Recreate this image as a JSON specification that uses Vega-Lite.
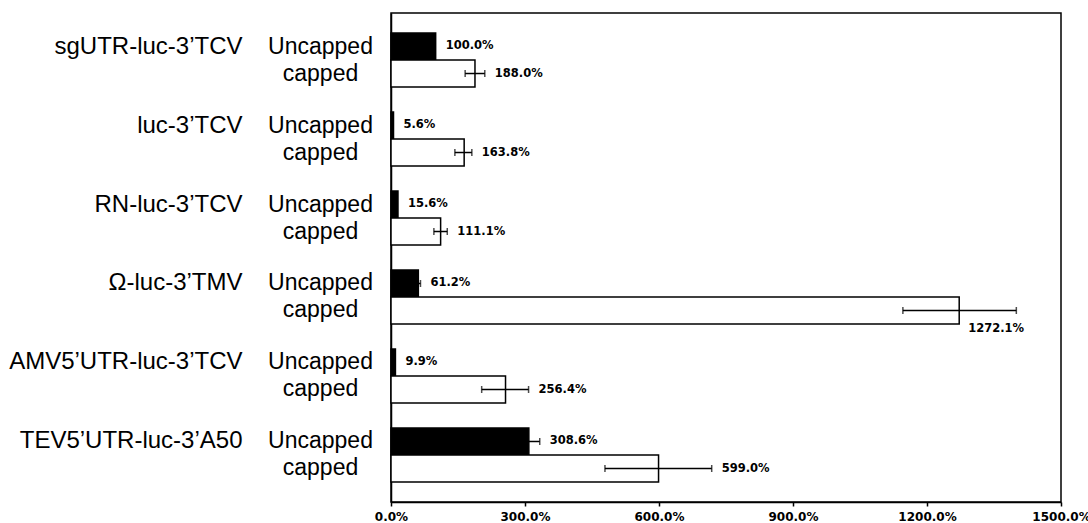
{
  "$schema": "https://vega.github.io/schema/vega-lite/v6.json",
  "width": 670,
  "height": 489,
  "autosize": {"type": "none"},
  "padding": {"left": 391, "top": 13, "right": 27, "bottom": 21},
  "background": "white",
  "config": {
    "view": {"stroke": "black", "strokeWidth": 1.5},
    "axis": {"grid": false}
  },
  "data": {
    "values": [
      {"construct": "sgUTR-luc-3’TCV", "cap": "Uncapped", "value": 100.0, "lo": 100.0, "hi": 100.0, "label": "100.0%"},
      {"construct": "sgUTR-luc-3’TCV", "cap": "capped", "value": 188.0, "lo": 166, "hi": 210, "label": "188.0%"},
      {"construct": "luc-3’TCV", "cap": "Uncapped", "value": 5.6, "lo": 5.6, "hi": 5.6, "label": "5.6%"},
      {"construct": "luc-3’TCV", "cap": "capped", "value": 163.8, "lo": 143, "hi": 181, "label": "163.8%"},
      {"construct": "RN-luc-3’TCV", "cap": "Uncapped", "value": 15.6, "lo": 15.6, "hi": 15.6, "label": "15.6%"},
      {"construct": "RN-luc-3’TCV", "cap": "capped", "value": 111.1, "lo": 96, "hi": 126, "label": "111.1%"},
      {"construct": "Ω-luc-3’TMV", "cap": "Uncapped", "value": 61.2, "lo": 57, "hi": 66, "label": "61.2%"},
      {"construct": "Ω-luc-3’TMV", "cap": "capped", "value": 1272.1, "lo": 1146, "hi": 1400, "label": "1272.1%"},
      {"construct": "AMV5’UTR-luc-3’TCV", "cap": "Uncapped", "value": 9.9, "lo": 9.9, "hi": 9.9, "label": "9.9%"},
      {"construct": "AMV5’UTR-luc-3’TCV", "cap": "capped", "value": 256.4, "lo": 203, "hi": 308, "label": "256.4%"},
      {"construct": "TEV5’UTR-luc-3’A50", "cap": "Uncapped", "value": 308.6, "lo": 285, "hi": 333, "label": "308.6%"},
      {"construct": "TEV5’UTR-luc-3’A50", "cap": "capped", "value": 599.0, "lo": 479, "hi": 718, "label": "599.0%"}
    ]
  },
  "layer": [
    {
      "mark": {"type": "bar", "stroke": "black", "strokeWidth": 1.5},
      "encoding": {
        "y": {
          "field": "construct", "type": "nominal", "sort": null, "title": null,
          "scale": {"paddingInner": 0.316, "paddingOuter": 0.253},
          "axis": {
            "orient": "left",
            "labelExpr": "['Uncapped','capped']",
            "labelAlign": "center",
            "labelBaseline": "middle",
            "labelLineHeight": 27,
            "labelPadding": 71,
            "labelOffset": -13.5,
            "ticks": false,
            "domain": true,
            "domainColor": "black",
            "domainWidth": 1.5,
            "labelFont": "Liberation Sans",
            "labelFontSize": 23,
            "labelColor": "black",
            "labelLimit": 400,
            "title": null
          }
        },
        "yOffset": {"field": "cap", "type": "nominal", "sort": ["Uncapped", "capped"], "scale": {"paddingInner": 0, "paddingOuter": 0}},
        "x": {
          "field": "value", "type": "quantitative", "title": null,
          "scale": {"domain": [0, 1500], "nice": false, "zero": true},
          "axis": {
            "values": [0, 300, 600, 900, 1200, 1500],
            "labelExpr": "format(datum.value,'.1f')+'%'",
            "tickSize": 4,
            "tickColor": "black",
            "tickWidth": 1.5,
            "domainColor": "black",
            "domainWidth": 1.5,
            "labelFont": "DejaVu Sans",
            "labelFontWeight": "bold",
            "labelFontSize": 12,
            "labelColor": "black",
            "labelPadding": 5,
            "labelFlush": false,
            "labelOverlap": false,
            "grid": false,
            "title": null
          }
        },
        "fill": {"field": "cap", "type": "nominal", "scale": {"domain": ["Uncapped", "capped"], "range": ["black", "white"]}, "legend": null}
      }
    },
    {
      "transform": [{"filter": "datum.hi > datum.lo"}],
      "mark": {"type": "rule", "color": "black", "strokeWidth": 1.5},
      "encoding": {
        "y": {
          "field": "construct", "type": "nominal", "sort": null, "title": null,
          "axis": {
            "orient": "left",
            "labelAlign": "right",
            "labelBaseline": "middle",
            "labelPadding": 149,
            "labelOffset": -13.5,
            "ticks": false,
            "domain": false,
            "labelFont": "Liberation Sans",
            "labelFontSize": 24,
            "labelColor": "black",
            "labelLimit": 400,
            "title": null
          }
        },
        "yOffset": {"field": "cap", "type": "nominal", "sort": ["Uncapped", "capped"]},
        "x": {"field": "lo", "type": "quantitative", "title": null},
        "x2": {"field": "hi"}
      }
    },
    {
      "transform": [{"filter": "datum.hi > datum.lo"}],
      "mark": {"type": "tick", "orient": "vertical", "color": "black", "size": 7, "thickness": 1.5},
      "encoding": {
        "y": {"field": "construct", "type": "nominal", "sort": null, "title": null, "axis": null},
        "yOffset": {"field": "cap", "type": "nominal", "sort": ["Uncapped", "capped"]},
        "x": {"field": "lo", "type": "quantitative", "title": null}
      }
    },
    {
      "transform": [{"filter": "datum.hi > datum.lo"}],
      "mark": {"type": "tick", "orient": "vertical", "color": "black", "size": 7, "thickness": 1.5},
      "encoding": {
        "y": {"field": "construct", "type": "nominal", "sort": null, "title": null, "axis": null},
        "yOffset": {"field": "cap", "type": "nominal", "sort": ["Uncapped", "capped"]},
        "x": {"field": "hi", "type": "quantitative", "title": null}
      }
    },
    {
      "transform": [{"filter": "datum.value < 1000"}],
      "mark": {"type": "text", "align": "left", "baseline": "middle", "dx": 10, "font": "DejaVu Sans", "fontWeight": "bold", "fontSize": 11.5, "color": "black"},
      "encoding": {
        "y": {"field": "construct", "type": "nominal", "sort": null, "title": null, "axis": null},
        "yOffset": {"field": "cap", "type": "nominal", "sort": ["Uncapped", "capped"]},
        "x": {"field": "hi", "type": "quantitative", "title": null},
        "text": {"field": "label", "type": "nominal"}
      }
    },
    {
      "transform": [{"filter": "datum.value >= 1000"}],
      "mark": {"type": "text", "align": "left", "baseline": "middle", "dx": 9, "dy": 18, "font": "DejaVu Sans", "fontWeight": "bold", "fontSize": 11.5, "color": "black"},
      "encoding": {
        "y": {"field": "construct", "type": "nominal", "sort": null, "title": null, "axis": null},
        "yOffset": {"field": "cap", "type": "nominal", "sort": ["Uncapped", "capped"]},
        "x": {"field": "value", "type": "quantitative", "title": null},
        "text": {"field": "label", "type": "nominal"}
      }
    }
  ],
  "resolve": {"axis": {"y": "independent"}}
}
